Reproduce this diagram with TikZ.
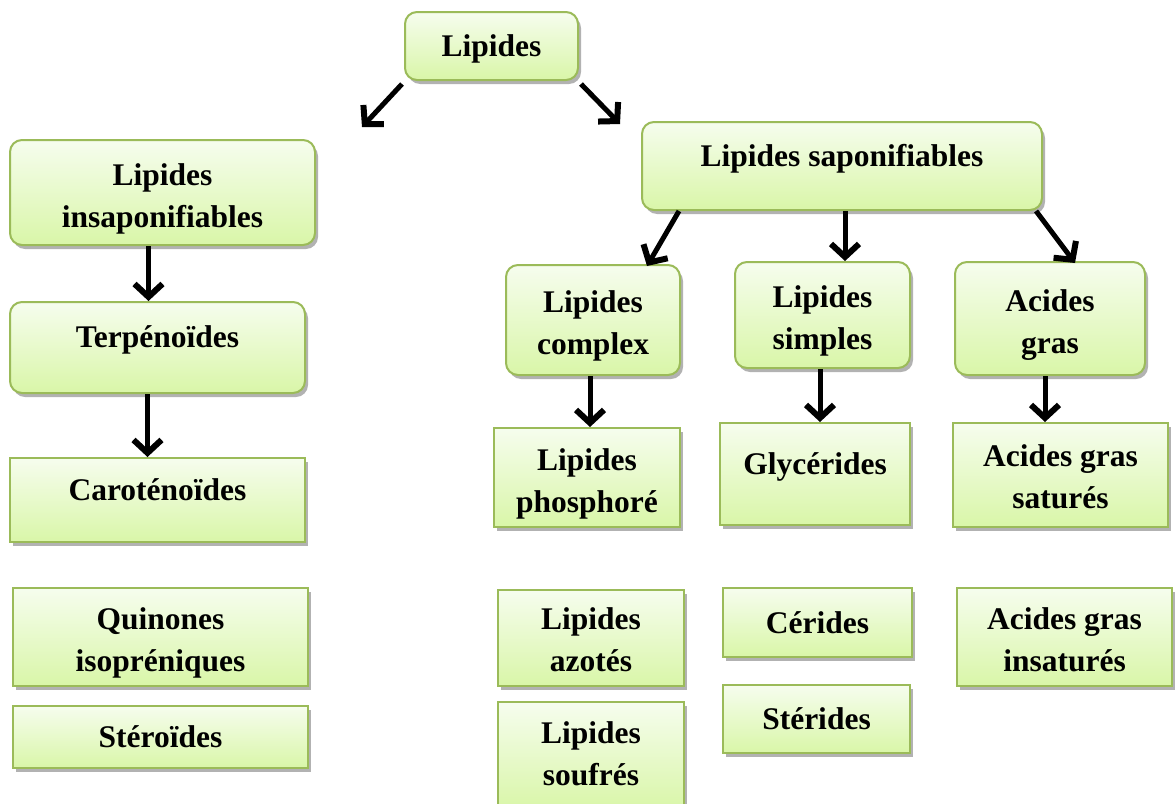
\documentclass[tikz,border=0pt]{standalone}
\usepackage{fontspec}
\setmainfont{Liberation Serif}
\usetikzlibrary{arrows.meta,shadows}
\definecolor{boxtop}{HTML}{F6FDEE}
\definecolor{boxbot}{HTML}{D9F6A8}
\definecolor{boxline}{HTML}{9BBB59}
\begin{document}
\begin{tikzpicture}[x=1pt,y=-1pt,
        every node/.style={font=\fontsize{31.5}{42}\selectfont\bfseries,align=center},
        box/.style={draw=boxline,line width=2pt,top color=boxtop,bottom color=boxbot,inner sep=0pt,
            drop shadow={shadow xshift=3pt,shadow yshift=-4pt,fill=black!55,opacity=.55}},
        rbox/.style={box,rounded corners=12pt},
        hi/.style={text height=24pt,text depth=24pt},
        two/.style={text height=76pt},
        arr/.style={line width=5pt,-{Straight Barb[length=13pt,width=28pt,line width=6pt]}}]
        \useasboundingbox (0,0) rectangle (1175,803);
        % top
        \node[rbox,text height=28pt,minimum width=173pt,minimum height=68pt] (lip) at (491.5,46) {Lipides};
        \coordinate (ll) at (362,127);
        \coordinate (lr) at (620,124);
        % insaponifiables
        \node[rbox,two,minimum width=305pt,minimum height=105pt] (insap) at (162.5,192.5) {Lipides\\insaponifiables};
        \node[rbox,hi,minimum width=295pt,minimum height=91pt] (terp) at (157.5,347.5) {Terpénoïdes};
        \node[box,hi,minimum width=295pt,minimum height=84pt] (carot) at (157.5,500) {Caroténoïdes};
        \node[box,two,minimum width=295pt,minimum height=98pt] (quin) at (160.5,637) {Quinones\\isopréniques};
        \node[box,minimum width=295pt,minimum height=62pt] (stero) at (160.5,737) {Stéroïdes};
        % saponifiables
        \node[rbox,hi,minimum width=400pt,minimum height=88pt] (sap) at (842,166) {Lipides saponifiables};
        \node[rbox,two,minimum width=174pt,minimum height=110pt] (compl) at (593,320) {Lipides\\complex};
        \node[rbox,two,minimum width=175pt,minimum height=106pt] (simp) at (822.5,315) {Lipides\\simples};
        \node[rbox,two,minimum width=190pt,minimum height=113pt] (acid) at (1050,318.5) {Acides\\gras};
        \node[box,two,minimum width=186pt,minimum height=99pt] (phos) at (587,477.5) {Lipides\\phosphoré};
        \node[box,hi,minimum width=190pt,minimum height=102pt] (glyc) at (815,474) {Glycérides};
        \node[box,text height=68pt,minimum width=215pt,minimum height=104pt] (sat) at (1060.5,475) {Acides gras\\saturés};
        \node[box,text height=68pt,minimum width=186pt,minimum height=96pt] (azot) at (591,638) {Lipides\\azotés};
        \node[box,text height=60pt,minimum width=186pt,minimum height=108pt] (souf) at (591,756) {Lipides\\soufrés};
        \node[box,minimum width=189pt,minimum height=69pt] (ceri) at (817.5,622.5) {Cérides};
        \node[box,minimum width=187pt,minimum height=68pt] (steri) at (816.5,719) {Stérides};
        \node[box,text height=70pt,minimum width=215pt,minimum height=98pt] (insat) at (1064.5,637) {Acides gras\\insaturés};
        % arrows
        \draw[arr] ([xshift=-2pt,yshift=-3pt]lip.south west) -- (ll);
        \draw[arr] ([xshift=2pt,yshift=-3pt]lip.south east) -- (lr);
        \draw[arr] ([xshift=-14pt]insap.south) -- ([xshift=-14pt]insap.south |- terp.north);
        \draw[arr] ([xshift=-10pt]terp.south) -- ([xshift=-10pt]carot.north);
        \draw[arr] ([xshift=38pt]sap.south west) -- ([xshift=54pt,yshift=-2pt]compl.north);
        \draw[arr] ([xshift=3pt]sap.south) -- ([xshift=3pt]sap.south |- simp.north);
        \draw[arr] ([xshift=-7pt]sap.south east) -- ([xshift=25pt,yshift=-2pt]acid.north);
        \draw[arr] ([xshift=-3pt]compl.south) -- ([xshift=-3pt]compl.south |- phos.north);
        \draw[arr] ([xshift=-2.5pt]simp.south) -- ([xshift=-2.5pt]simp.south |- glyc.north);
        \draw[arr] ([xshift=-5pt]acid.south) -- ([xshift=-5pt]acid.south |- sat.north);
\end{tikzpicture}
\end{document}
